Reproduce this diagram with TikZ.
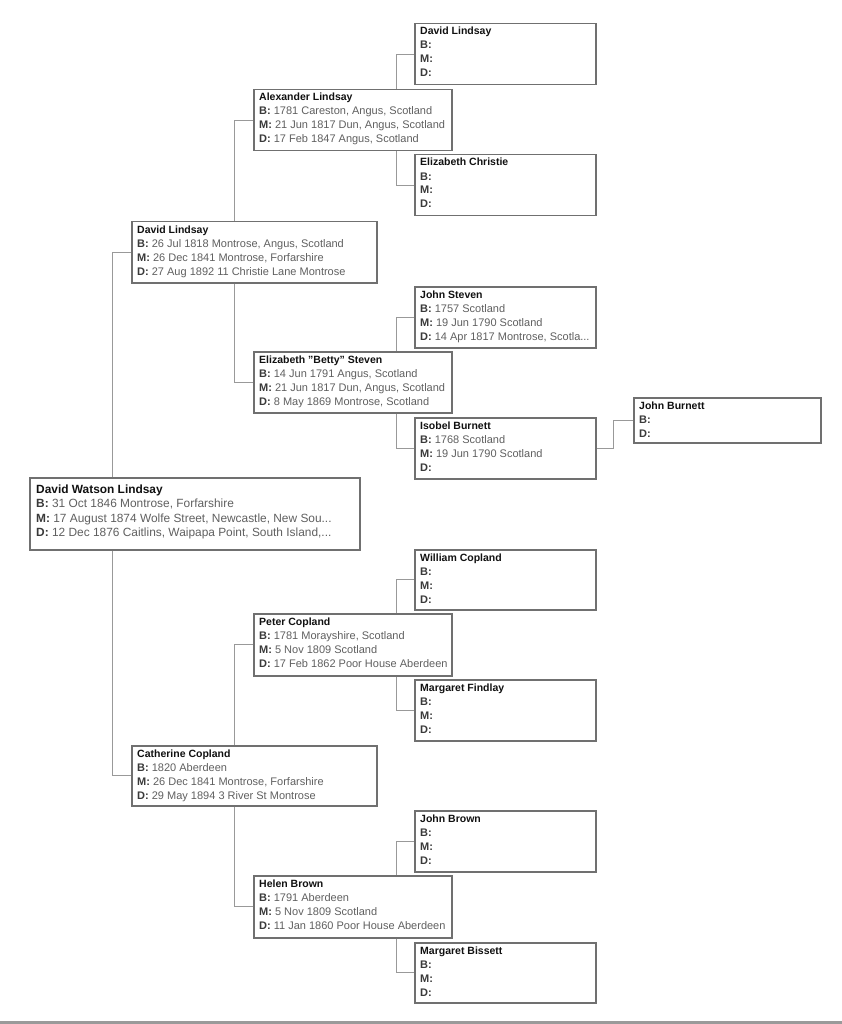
\documentclass[tikz,border=0pt]{standalone}
\usepackage{fontspec}
\setmainfont{Liberation Sans}
\usetikzlibrary{calc}
\definecolor{boxc}{HTML}{707070}
\definecolor{connc}{HTML}{999999}
\definecolor{namec}{HTML}{111111}
\definecolor{labc}{HTML}{3A3A3A}
\definecolor{valc}{HTML}{606060}
\definecolor{barc}{HTML}{9A9A9A}
\newcommand\lb[1]{\textbf{\color{labc}#1}}
\newcommand\nm[1]{\strut{\fontsize{10.5}{14}\selectfont\bfseries\color{namec}#1}}
\newcommand\nmbig[1]{\strut{\bfseries\color{namec}#1}}
% #1 name, #2 x, #3 y, #4 w, #5 h, #6 content
\newcommand\pbox[6]{%
  \node[pbox, minimum width=#4pt, minimum height=#5pt, anchor=north west] (#1) at (#2,#3) {};
  \node[ptext, anchor=north west] (#1t) at ([xshift=6pt,yshift=-2pt]#1.north west) {#6};
}
\newcommand\pboxbig[6]{%
  \node[pbox, minimum width=#4pt, minimum height=#5pt, anchor=north west] (#1) at (#2,#3) {};
  \node[ptextbig, anchor=north west] (#1t) at ([xshift=7pt,yshift=-6pt]#1.north west) {#6};
}
\tikzset{
  pbox/.style={draw=boxc, line width=1.5pt, fill=white, inner sep=0pt},
  ptext/.style={inner sep=0pt, align=left, text=valc, font=\fontsize{11}{14}\selectfont},
  ptextbig/.style={inner sep=0pt, align=left, text=valc, font=\fontsize{11.9}{14.5}\selectfont},
  conn/.style={draw=connc, line width=1pt},
}
\begin{document}
\begin{tikzpicture}[x=1pt,y=-1pt]
\useasboundingbox (0,0) rectangle (842,1024);
\fill[barc] (0,1021) rectangle (842,1024);

% generation 4
\pbox{dl4}{414}{23}{181}{61}{\nm{David Lindsay}\\\lb{B:}\\\lb{M:}\\\lb{D:}}
\pbox{ec}{414}{154}{181}{61}{\nm{Elizabeth Christie}\\\lb{B:}\\\lb{M:}\\\lb{D:}}
\pbox{js}{414}{286}{181}{61}{\nm{John Steven}\\\lb{B:} 1757 Scotland\\\lb{M:} 19 Jun 1790 Scotland\\\lb{D:} 14 Apr 1817 Montrose, Scotla...}
\pbox{ib}{414}{417}{181}{61}{\nm{Isobel Burnett}\\\lb{B:} 1768 Scotland\\\lb{M:} 19 Jun 1790 Scotland\\\lb{D:}}
\pbox{wc}{414}{549}{181}{60}{\nm{William Copland}\\\lb{B:}\\\lb{M:}\\\lb{D:}}
\pbox{mf}{414}{679}{181}{61}{\nm{Margaret Findlay}\\\lb{B:}\\\lb{M:}\\\lb{D:}}
\pbox{jbr}{414}{810}{181}{61}{\nm{John Brown}\\\lb{B:}\\\lb{M:}\\\lb{D:}}
\pbox{mb}{414}{942}{181}{60}{\nm{Margaret Bissett}\\\lb{B:}\\\lb{M:}\\\lb{D:}}
\pbox{jbu}{633}{397}{187}{45}{\nm{John Burnett}\\\lb{B:}\\\lb{D:}}

% generation 3
\pbox{al}{253}{89}{198}{61}{\nm{Alexander Lindsay}\\\lb{B:} 1781 Careston, Angus, Scotland\\\lb{M:} 21 Jun 1817 Dun, Angus, Scotland\\\lb{D:} 17 Feb 1847 Angus, Scotland}
\pbox{be}{253}{351}{198}{61}{\nm{Elizabeth "Betty" Steven}\\\lb{B:} 14 Jun 1791 Angus, Scotland\\\lb{M:} 21 Jun 1817 Dun, Angus, Scotland\\\lb{D:} 8 May 1869 Montrose, Scotland}
\pbox{pe}{253}{613}{198}{62}{\nm{Peter Copland}\\\lb{B:} 1781 Morayshire, Scotland\\\lb{M:} 5 Nov 1809 Scotland\\\lb{D:} 17 Feb 1862 Poor House Aberdeen}
\pbox{he}{253}{875}{198}{62}{\nm{Helen Brown}\\\lb{B:} 1791 Aberdeen\\\lb{M:} 5 Nov 1809 Scotland\\\lb{D:} 11 Jan 1860 Poor House Aberdeen}

% generation 2
\pbox{dl2}{131}{221}{245}{61}{\nm{David Lindsay}\\\lb{B:} 26 Jul 1818 Montrose, Angus, Scotland\\\lb{M:} 26 Dec 1841 Montrose, Forfarshire\\\lb{D:} 27 Aug 1892 11 Christie Lane Montrose}
\pbox{ca}{131}{745}{245}{60}{\nm{Catherine Copland}\\\lb{B:} 1820 Aberdeen\\\lb{M:} 26 Dec 1841 Montrose, Forfarshire\\\lb{D:} 29 May 1894 3 River St Montrose}

% generation 1
\pboxbig{dwl}{29}{477}{330}{72}{\nmbig{David Watson Lindsay}\\\lb{B:} 31 Oct 1846 Montrose, Forfarshire\\\lb{M:} 17 August 1874 Wolfe Street, Newcastle, New Sou...\\\lb{D:} 12 Dec 1876 Caitlins, Waipapa Point, South Island,...}

% elbow coordinates
\coordinate (k1) at ([xshift=-19pt]dl2.west);
\coordinate (k2) at ([xshift=-19pt]al.west);
\coordinate (k3) at ([xshift=-18pt]dl4.west);
\coordinate (k4) at ([xshift=-20pt]jbu.west);

% connectors
\draw[conn] (k1 |- dwl.north) |- (dl2.west);
\draw[conn] (k1 |- dwl.south) |- (ca.west);
\draw[conn] (k2 |- dl2.north) |- (al.west);
\draw[conn] (k2 |- dl2.south) |- (be.west);
\draw[conn] (k2 |- ca.north) |- (pe.west);
\draw[conn] (k2 |- ca.south) |- (he.west);
\draw[conn] (k3 |- al.north) |- (dl4.west);
\draw[conn] (k3 |- al.south) |- (ec.west);
\draw[conn] (k3 |- be.north) |- (js.west);
\draw[conn] (k3 |- be.south) |- (ib.west);
\draw[conn] (k3 |- pe.north) |- (wc.west);
\draw[conn] (k3 |- pe.south) |- (mf.west);
\draw[conn] (k3 |- he.north) |- (jbr.west);
\draw[conn] (k3 |- he.south) |- (mb.west);
\draw[conn] (ib.east) -| (k4) -- (jbu.west);
\end{tikzpicture}
\end{document}
